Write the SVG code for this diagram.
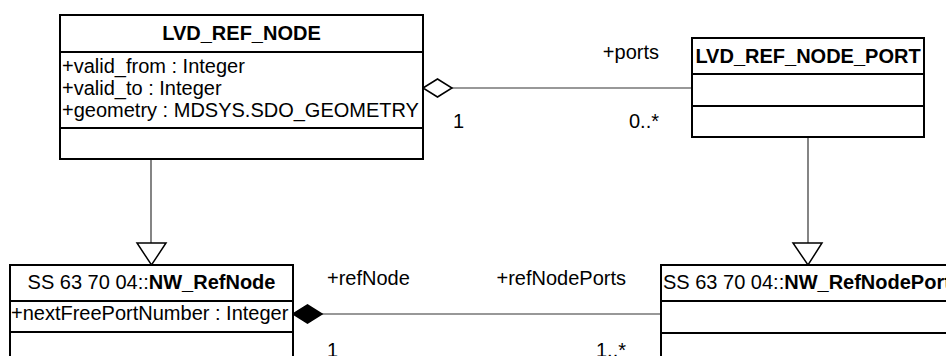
<svg xmlns="http://www.w3.org/2000/svg" width="946" height="356" viewBox="0 0 946 356">
<style>
text{font-family:"Liberation Sans",Arial,sans-serif;font-size:20px;fill:#000}
.b{font-weight:bold}
.box{fill:#fff;stroke:#000;stroke-width:2}
.div{stroke:#000;stroke-width:2}
.con{fill:none;stroke:#333;stroke-width:1.2}
.hol{fill:#fff;stroke:#000;stroke-width:1.5}
.fil{fill:#000;stroke:#000;stroke-width:1.5}
</style>
<rect width="946" height="356" fill="#fff"/>
<g id="connectors">
<line class="con" x1="452" y1="88" x2="692" y2="88"/>
<polygon class="hol" points="423,88 437.5,79 452,88 437.5,97"/>
<line class="con" x1="322" y1="314" x2="661" y2="314"/>
<polygon class="fil" points="293,314 307.5,305 322,314 307.5,323"/>
<line class="con" x1="151" y1="159" x2="151" y2="243"/>
<polygon class="hol" points="137,243 166,243 151.5,265"/>
<line class="con" x1="808" y1="137" x2="808" y2="243"/>
<polygon class="hol" points="793,243 822,243 808,265"/>
<text x="659" y="59" text-anchor="end">+ports</text>
<text x="453" y="128">1</text>
<text x="659" y="128" text-anchor="end">0..*</text>
<text x="327" y="285">+refNode</text>
<text x="626" y="285" text-anchor="end">+refNodePorts</text>
<text x="327" y="357">1</text>
<text x="626" y="357" text-anchor="end">1..*</text>
</g>
<g id="LVD_REF_NODE">
<rect class="box" x="60" y="15" width="363" height="144"/>
<line class="div" x1="60" y1="52" x2="423" y2="52"/>
<line class="div" x1="60" y1="128" x2="423" y2="128"/>
<text class="b" x="241.5" y="40" text-anchor="middle">LVD_REF_NODE</text>
<text x="62" y="73">+valid_from : Integer</text>
<text x="62" y="95">+valid_to : Integer</text>
<text x="62" y="117">+geometry : MDSYS.SDO_GEOMETRY</text>
</g>
<g id="LVD_REF_NODE_PORT">
<rect class="box" x="692" y="38" width="232" height="99"/>
<line class="div" x1="692" y1="74" x2="924" y2="74"/>
<line class="div" x1="692" y1="106" x2="924" y2="106"/>
<text class="b" x="808" y="63" text-anchor="middle">LVD_REF_NODE_PORT</text>
</g>
<g id="NW_RefNode">
<rect class="box" x="10" y="265" width="283" height="110"/>
<line class="div" x1="10" y1="301" x2="293" y2="301"/>
<line class="div" x1="10" y1="332" x2="293" y2="332"/>
<text x="151.5" y="289" text-anchor="middle">SS 63 70 04::<tspan class="b">NW_RefNode</tspan></text>
<text x="11" y="320">+nextFreePortNumber : Integer</text>
</g>
<g id="NW_RefNodePort">
<rect class="box" x="661" y="265" width="300" height="110"/>
<line class="div" x1="661" y1="301" x2="961" y2="301"/>
<line class="div" x1="661" y1="333" x2="961" y2="333"/>
<text x="663" y="289">SS 63 70 04::<tspan class="b">NW_RefNodePort</tspan></text>
</g>
</svg>
